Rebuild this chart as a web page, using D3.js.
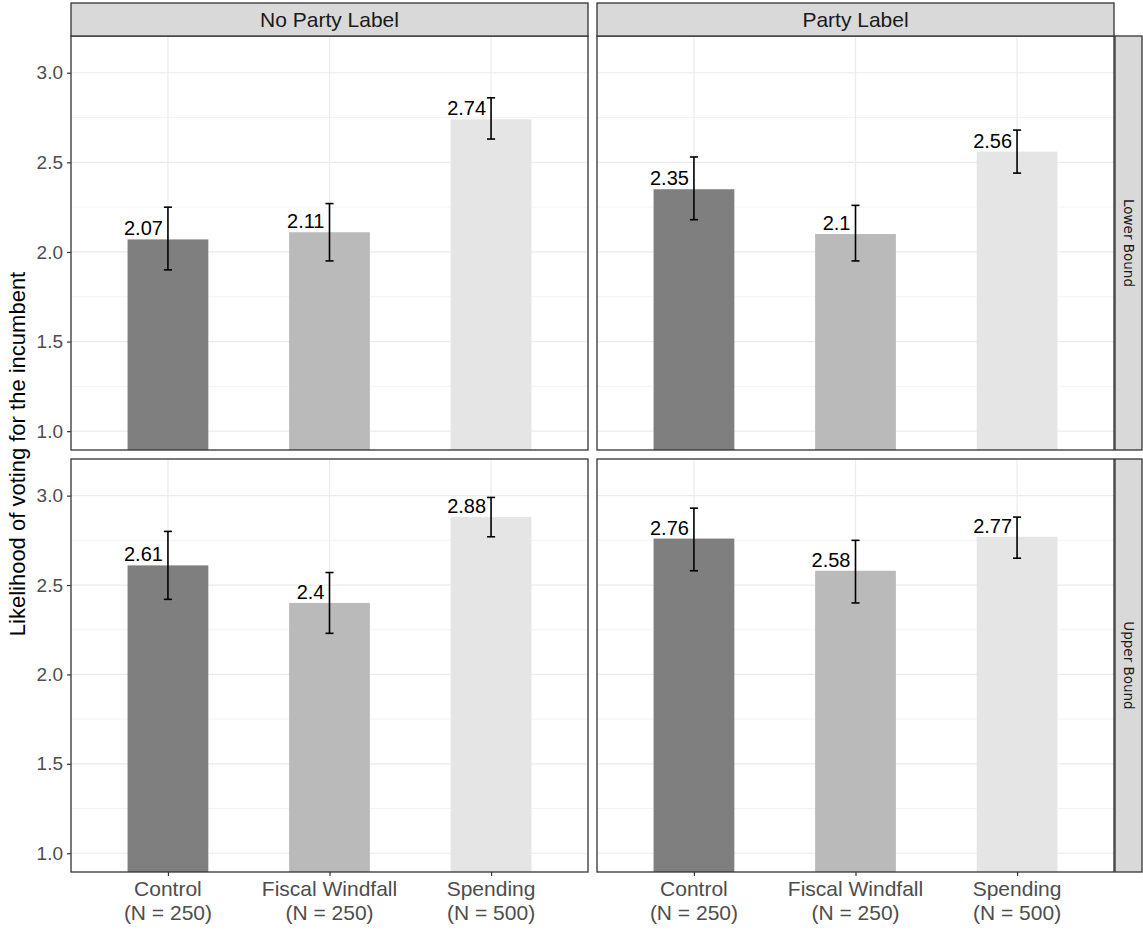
<!DOCTYPE html>
<html>
<head>
<meta charset="utf-8">
<script src="https://cdn.jsdelivr.net/npm/d3@7"></script>
<style>
  body { margin: 0; background: #fff; }
  svg { display: block; font-family: "Liberation Sans", Arial, sans-serif; }
</style>
</head>
<body>
<svg id="chart" width="1143" height="930"></svg>
<script>
// Treatment groups along the x axis
const categories = ["Control", "Fiscal Windfall", "Spending"];
const categorySizes = ["(N = 250)", "(N = 250)", "(N = 500)"];
// Facets
const columnFacets = ["No Party Label", "Party Label"];
const rowFacets = ["Lower Bound", "Upper Bound"];
// Means and 95% intervals, per row facet then column facet
const lowerNoParty = [2.07, 2.11, 2.74];
const lowerNoPartyLo = [1.90, 1.95, 2.63];
const lowerNoPartyHi = [2.25, 2.27, 2.86];
const lowerParty = [2.35, 2.10, 2.56];
const lowerPartyLo = [2.18, 1.95, 2.44];
const lowerPartyHi = [2.53, 2.26, 2.68];
const upperNoParty = [2.61, 2.40, 2.88];
const upperNoPartyLo = [2.42, 2.23, 2.77];
const upperNoPartyHi = [2.80, 2.57, 2.99];
const upperParty = [2.76, 2.58, 2.77];
const upperPartyLo = [2.58, 2.40, 2.65];
const upperPartyHi = [2.93, 2.75, 2.88];
const labelText = [["2.07", "2.11", "2.74"], ["2.35", "2.1", "2.56"], ["2.61", "2.4", "2.88"], ["2.76", "2.58", "2.77"]];
const yTicks = [1.0, 1.5, 2.0, 2.5, 3.0];
const yMinor = [1.25, 1.75, 2.25, 2.75];
const yLimits = [1, 3.1];
const yTitle = "Likelihood of voting for the incumbent";

const barColors = ["#7f7f7f", "#bababa", "#e5e5e5"];

const panelData = [
  [ {mean: lowerNoParty, lo: lowerNoPartyLo, hi: lowerNoPartyHi, labels: labelText[0]},
    {mean: lowerParty, lo: lowerPartyLo, hi: lowerPartyHi, labels: labelText[1]} ],
  [ {mean: upperNoParty, lo: upperNoPartyLo, hi: upperNoPartyHi, labels: labelText[2]},
    {mean: upperParty, lo: upperPartyLo, hi: upperPartyHi, labels: labelText[3]} ]
];

const svg = d3.select("#chart");

// Panel geometry
const colX = [[71, 588], [597, 1114]];
const rowY = [[36, 450], [459, 872]];
const stripTop = 3;
const rightStrip = [1115, 1142];

const pad = (yLimits[1] - yLimits[0]) * 0.05;
const yDomain = [yLimits[0] - pad, yLimits[1] + pad];

const border = "#333333";
const grid = "#ebebeb";
const textGray = "#4d4d4d";

rowY.forEach((ry, ri) => {
  colX.forEach((cx, ci) => {
    const x = d3.scalePoint().domain(categories).range(cx).padding(0.6);
    const y = d3.scaleLinear().domain(yDomain).range([ry[1], ry[0]]);
    const step = x.step();
    const d = panelData[ri][ci];

    const g = svg.append("g");
    const clipId = `clip-${ri}-${ci}`;
    svg.append("clipPath").attr("id", clipId)
      .append("rect").attr("x", cx[0]).attr("y", ry[0])
      .attr("width", cx[1] - cx[0]).attr("height", ry[1] - ry[0]);
    const inner = g.append("g").attr("clip-path", `url(#${clipId})`);

    // background grid
    inner.selectAll(".minor").data(yMinor).join("line")
      .attr("x1", cx[0]).attr("x2", cx[1])
      .attr("y1", v => y(v)).attr("y2", v => y(v))
      .attr("stroke", grid).attr("stroke-width", 0.6);
    inner.selectAll(".major").data(yTicks).join("line")
      .attr("x1", cx[0]).attr("x2", cx[1])
      .attr("y1", v => y(v)).attr("y2", v => y(v))
      .attr("stroke", grid).attr("stroke-width", 1.2);
    inner.selectAll(".vmajor").data(categories).join("line")
      .attr("x1", c => x(c)).attr("x2", c => x(c))
      .attr("y1", ry[0]).attr("y2", ry[1])
      .attr("stroke", grid).attr("stroke-width", 1.2);

    // bars
    inner.selectAll(".bar").data(categories).join("rect")
      .attr("x", c => x(c) - step * 0.25)
      .attr("width", step * 0.5)
      .attr("y", (c, i) => y(d.mean[i]))
      .attr("height", (c, i) => ry[1] + 5 - y(d.mean[i]))
      .attr("fill", (c, i) => barColors[i]);

    // error bars
    const capW = step * 0.025;
    categories.forEach((c, i) => {
      const eb = inner.append("g").attr("stroke", "#000").attr("stroke-width", 1.6);
      eb.append("line").attr("x1", x(c)).attr("x2", x(c))
        .attr("y1", y(d.lo[i])).attr("y2", y(d.hi[i]));
      eb.append("line").attr("x1", x(c) - capW).attr("x2", x(c) + capW)
        .attr("y1", y(d.lo[i])).attr("y2", y(d.lo[i]));
      eb.append("line").attr("x1", x(c) - capW).attr("x2", x(c) + capW)
        .attr("y1", y(d.hi[i])).attr("y2", y(d.hi[i]));
    });

    // value labels
    inner.selectAll(".lab").data(categories).join("text")
      .attr("x", c => x(c) - 5)
      .attr("y", (c, i) => y(d.mean[i]) - 4)
      .attr("text-anchor", "end")
      .attr("font-size", 20)
      .attr("fill", "#000")
      .text((c, i) => d.labels[i]);

    // panel border
    g.append("rect").attr("x", cx[0]).attr("y", ry[0])
      .attr("width", cx[1] - cx[0]).attr("height", ry[1] - ry[0])
      .attr("fill", "none").attr("stroke", border).attr("stroke-width", 1.3);

    // y axis on the left column
    if (ci === 0) {
      const ax = g.append("g").attr("transform", `translate(${cx[0]},0)`)
        .call(d3.axisLeft(y).tickValues(yTicks).tickFormat(d3.format(".1f")).tickSize(4).tickPadding(4));
      ax.select(".domain").remove();
      ax.selectAll(".tick line").attr("stroke", border).attr("stroke-width", 1.2);
      ax.selectAll(".tick text").attr("fill", textGray).attr("font-size", 19)
        .attr("font-family", "Liberation Sans, Arial, sans-serif");
    }

    // x axis on the bottom row: two-line category labels
    if (ri === rowY.length - 1) {
      const ax = g.append("g").attr("transform", `translate(0,${ry[1]})`)
        .call(d3.axisBottom(x).tickSize(4).tickFormat(""));
      ax.select(".domain").remove();
      ax.selectAll(".tick line").attr("stroke", border).attr("stroke-width", 1.2);
      categories.forEach((c, i) => {
        g.append("text").attr("x", x(c)).attr("y", ry[1] + 24)
          .attr("text-anchor", "middle").attr("font-size", 21).attr("fill", textGray)
          .text(c);
        g.append("text").attr("x", x(c)).attr("y", ry[1] + 48)
          .attr("text-anchor", "middle").attr("font-size", 21).attr("fill", textGray)
          .text(categorySizes[i]);
      });
    }

    // top strips
    if (ri === 0) {
      g.append("rect").attr("x", cx[0]).attr("y", stripTop)
        .attr("width", cx[1] - cx[0]).attr("height", ry[0] - stripTop)
        .attr("fill", "#d9d9d9").attr("stroke", border).attr("stroke-width", 1.3);
      g.append("text").attr("x", (cx[0] + cx[1]) / 2).attr("y", (stripTop + ry[0]) / 2)
        .attr("dy", "0.35em").attr("text-anchor", "middle")
        .attr("font-size", 21).attr("fill", "#1a1a1a").text(columnFacets[ci]);
    }

    // right strips
    if (ci === colX.length - 1) {
      g.append("rect").attr("x", rightStrip[0]).attr("y", ry[0])
        .attr("width", rightStrip[1] - rightStrip[0]).attr("height", ry[1] - ry[0])
        .attr("fill", "#d9d9d9").attr("stroke", border).attr("stroke-width", 1.3);
      const cxm = (rightStrip[0] + rightStrip[1]) / 2, cym = (ry[0] + ry[1]) / 2;
      g.append("text").attr("transform", `translate(${cxm},${cym}) rotate(90)`)
        .attr("dy", "0.35em").attr("text-anchor", "middle")
        .attr("font-family", "DejaVu Sans, sans-serif")
        .attr("font-size", 13.5).attr("fill", "#1a1a1a").text(rowFacets[ri]);
    }
  });
});

// y axis title
svg.append("text")
  .attr("transform", `translate(17,${(rowY[0][0] + rowY[1][1]) / 2}) rotate(-90)`)
  .attr("dy", "0.35em").attr("text-anchor", "middle")
  .attr("font-size", 22).attr("fill", "#000").text(yTitle);
</script>
</body>
</html>
